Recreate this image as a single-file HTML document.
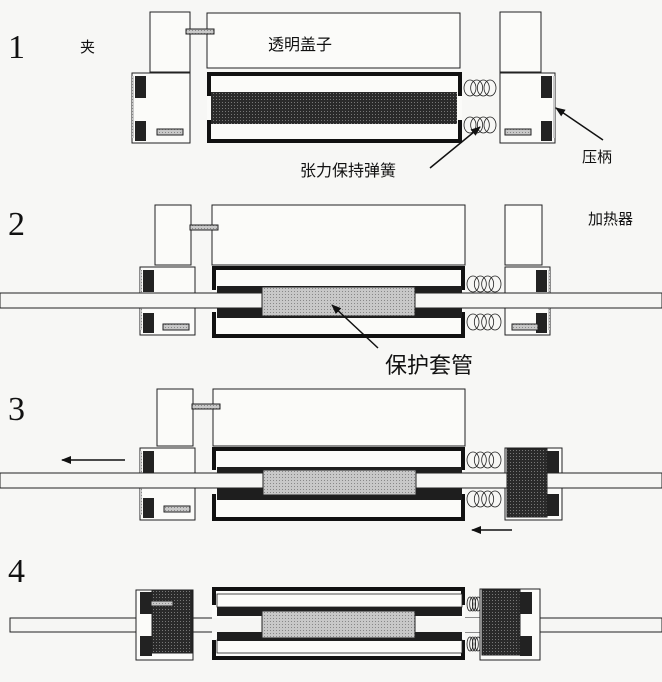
<!DOCTYPE html>
<html><head><meta charset="utf-8"><style>
html,body{margin:0;padding:0;background:#f7f7f5;}
svg{display:block}
text{font-family:"Liberation Sans","Noto Sans CJK SC",sans-serif;fill:#111}
text.n{font-family:"Liberation Serif",serif}
</style></head><body>
<svg width="662" height="682" viewBox="0 0 662 682" xmlns="http://www.w3.org/2000/svg">
<defs>
<pattern id="dk" width="3" height="3" patternUnits="userSpaceOnUse"><rect width="3" height="3" fill="#2a2a2a"/><rect width="1" height="1" fill="#777"/></pattern>
<pattern id="lt" width="3" height="3" patternUnits="userSpaceOnUse"><rect width="3" height="3" fill="#c8c8c8"/><rect width="1" height="1" fill="#888"/></pattern>
<marker id="ah" markerWidth="10" markerHeight="8" refX="9" refY="4" orient="auto" markerUnits="userSpaceOnUse"><path d="M0,0 L10,4 L0,8 Z" fill="#111"/></marker>
</defs>
<g id="g" stroke="#222" stroke-width="1" fill="none"></g>
<text class="n" x="8" y="58" font-size="34">1</text>
<text class="n" x="8" y="235" font-size="34">2</text>
<text class="n" x="8" y="420" font-size="34">3</text>
<text class="n" x="8" y="582" font-size="34">4</text>
<text x="80" y="52" font-size="15">夹</text>
<text x="268" y="50" font-size="16">透明盖子</text>
<text x="300" y="176" font-size="16">张力保持弹簧</text>
<text x="582" y="162" font-size="15">压柄</text>
<text x="588" y="224" font-size="15">加热器</text>
<text x="385" y="373" font-size="22">保护套管</text>
</svg>
<script>
var g=document.getElementById('g'),s='';
function R(x,y,w,h,f,sw){s+='<rect x="'+x+'" y="'+y+'" width="'+w+'" height="'+h+'" fill="'+(f||'#fbfbf9')+'"'+(sw!=null?' stroke-width="'+sw+'"':'')+'/>';}
function L(x1,y1,x2,y2,m,w){s+='<line x1="'+x1+'" y1="'+y1+'" x2="'+x2+'" y2="'+y2+'" stroke="#111" stroke-width="'+(w||1.5)+'"'+(m?' marker-end="url(#ah)"':'')+'/>';}
function spring(x,y,w,h,n,rx){n=n||4;rx=rx||6;for(var i=0;i<n;i++){s+='<ellipse cx="'+(x+rx+i*(w-2*rx)/(n-1))+'" cy="'+(y+h/2)+'" rx="'+rx+'" ry="'+h/2+'" fill="none" stroke-width="0.8"/>';}}
function clampL(x,y,w,h){R(x,y,w,h);R(x+3,y+3,11,22,'#222',0);R(x+3,y+h-22,11,20,'#222',0);R(x,y+3,2,h-8,'url(#lt)',0);}
function clampR(x,y,w,h){R(x,y,w,h);R(x+w-14,y+3,11,22,'#222',0);R(x+w-14,y+h-22,11,20,'#222',0);R(x+w-2,y+3,2,h-8,'url(#lt)',0);}
function frame(x,y,w,h,gapTop,gapBot){R(x,y,w,h,'#fbfbf9',0);R(x,y,w,4,'#111',0);R(x,y+h-4,w,4,'#111',0);R(x,y,4,gapTop-y,'#111',0);R(x,gapBot,4,y+h-gapBot,'#111',0);R(x+w-4,y,4,gapTop-y,'#111',0);R(x+w-4,gapBot,4,y+h-gapBot,'#111',0);}
// Panel 1
R(150,12,40,60);R(207,13,253,55);R(500,12,41,60);R(186,29,28,5,'url(#lt)');
clampL(132,73,58,70);R(157,129,26,6,'url(#lt)');
frame(207,72,255,71,96,120);R(211,92,246,32,'url(#dk)',0);
spring(464,80,32,16);spring(464,117,32,16);
clampR(500,73,55,70);R(505,129,26,6,'url(#lt)');
// Panel 2
R(155,205,36,60);R(212,205,253,60);R(505,205,37,60);R(190,225,28,5,'url(#lt)');
clampL(140,267,55,68);R(163,324,26,6,'url(#lt)');
frame(212,266,253,72,290,312);R(217,286,245,8,'#1e1e1e',0);R(217,307,245,11,'#1e1e1e',0);
clampR(505,267,45,68);R(512,324,26,6,'url(#lt)');
spring(467,276,34,16);spring(467,314,34,16);
R(0,293,662,15,'#f6f6f4');R(262,287,153,29,'url(#lt)');
// Panel 3
R(157,389,36,57);R(213,389,252,57);R(192,404,28,5,'url(#lt)');
clampL(140,448,55,72);R(164,506,26,6,'url(#lt)');
frame(212,447,253,74,470,494);R(217,467,245,8,'#1e1e1e',0);R(217,488,245,12,'#1e1e1e',0);
spring(467,452,34,16);spring(467,491,34,16);
R(505,448,57,72);R(547,451,12,22,'#222',0);R(547,494,12,22,'#222',0);
R(0,473,662,15,'#f6f6f4');R(263,470,153,25,'url(#lt)');R(507,449,40,68,'url(#dk)');
L(125,460,62,460,true);L(512,530,472,530,true);
// Panel 4
R(10,618,652,14,'#f6f6f4');
R(136,590,57,70);R(140,592,12,22,'#222',0);R(140,636,12,20,'#222',0);R(152,590,40,63,'url(#dk)');
frame(212,587,253,73,605,640);R(217,594,245,13,'#fbfbf9',0.8);R(217,640,245,13,'#fbfbf9',0.8);R(217,607,245,9,'#1e1e1e',0);R(217,632,245,9,'#1e1e1e',0);
R(212,618,253,14,'#f6f6f4',0);R(465,618,15,14,'#f6f6f4',0);
spring(467,597,14,14,4,3);spring(467,637,14,14,4,3);
R(480,589,60,71);R(520,592,12,22,'#222',0);R(520,636,12,20,'#222',0);R(482,590,38,65,'url(#dk)');
R(262,611,153,27,'url(#lt)');R(151,601,22,5,'url(#lt)');
// annotation arrows
L(430,168,480,127,true);L(603,140,556,108,true);L(378,348,332,305,true);
g.innerHTML=s;
</script>
</body></html>
